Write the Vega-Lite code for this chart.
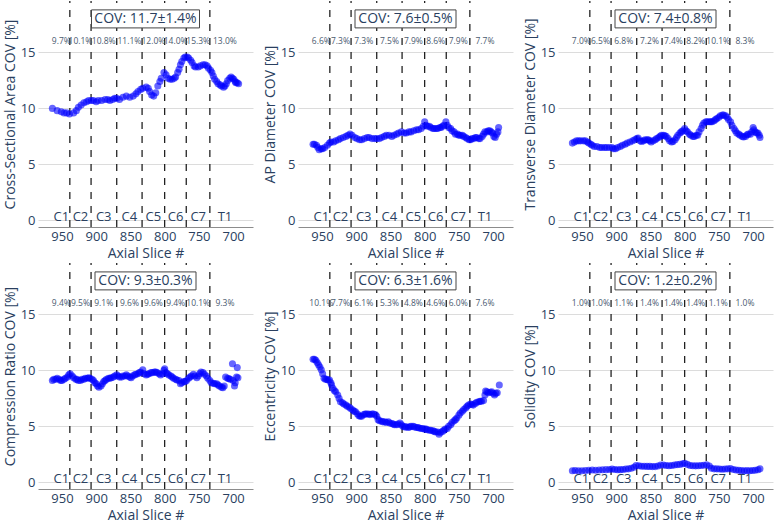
{
"$schema": "https://vega.github.io/schema/vega-lite/v6.json",
"padding": {"left": 3, "top": 0, "right": 1, "bottom": 0},
"background": "white",
"columns": 3,
"spacing": {"row": 2, "column": 10},
"datasets": {
"bnd": [{"s":938.5},{"s":907.5},{"s":870},{"s":833},{"s":800},{"s":768.5},{"s":734}],
"lab": [{"s":951,"lev":"C1"},{"s":923,"lev":"C2"},{"s":889,"lev":"C3"},{"s":851.5,"lev":"C4"},{"s":816.5,"lev":"C5"},{"s":784,"lev":"C6"},{"s":751,"lev":"C7"},{"s":712,"lev":"T1"}],
"cov": [{"m":"csa","t":"COV: 11.7±1.4%"},{"m":"ap","t":"COV: 7.6±0.5%"},{"m":"tr","t":"COV: 7.4±0.8%"},{"m":"cr","t":"COV: 9.3±0.3%"},{"m":"ec","t":"COV: 6.3±1.6%"},{"m":"so","t":"COV: 1.2±0.2%"}],
"pct": [
{"m":"csa","s":951,"p":"9.7%"},{"m":"csa","s":923,"p":"10.1%"},{"m":"csa","s":889,"p":"10.8%"},{"m":"csa","s":851.5,"p":"11.1%"},{"m":"csa","s":816.5,"p":"12.0%"},{"m":"csa","s":784,"p":"14.0%"},{"m":"csa","s":751,"p":"15.3%"},{"m":"csa","s":712,"p":"13.0%"},
{"m":"ap","s":951,"p":"6.6%"},{"m":"ap","s":923,"p":"7.3%"},{"m":"ap","s":889,"p":"7.3%"},{"m":"ap","s":851.5,"p":"7.5%"},{"m":"ap","s":816.5,"p":"7.9%"},{"m":"ap","s":784,"p":"8.6%"},{"m":"ap","s":751,"p":"7.9%"},{"m":"ap","s":712,"p":"7.7%"},
{"m":"tr","s":951,"p":"7.0%"},{"m":"tr","s":923,"p":"6.5%"},{"m":"tr","s":889,"p":"6.8%"},{"m":"tr","s":851.5,"p":"7.2%"},{"m":"tr","s":816.5,"p":"7.4%"},{"m":"tr","s":784,"p":"8.2%"},{"m":"tr","s":751,"p":"10.1%"},{"m":"tr","s":712,"p":"8.3%"},
{"m":"cr","s":951,"p":"9.4%"},{"m":"cr","s":923,"p":"9.5%"},{"m":"cr","s":889,"p":"9.1%"},{"m":"cr","s":851.5,"p":"9.6%"},{"m":"cr","s":816.5,"p":"9.6%"},{"m":"cr","s":784,"p":"9.4%"},{"m":"cr","s":751,"p":"10.1%"},{"m":"cr","s":712,"p":"9.3%"},
{"m":"ec","s":951,"p":"10.1%"},{"m":"ec","s":923,"p":"7.7%"},{"m":"ec","s":889,"p":"6.1%"},{"m":"ec","s":851.5,"p":"5.3%"},{"m":"ec","s":816.5,"p":"4.8%"},{"m":"ec","s":784,"p":"4.6%"},{"m":"ec","s":751,"p":"6.0%"},{"m":"ec","s":712,"p":"7.6%"},
{"m":"so","s":951,"p":"1.0%"},{"m":"so","s":923,"p":"1.0%"},{"m":"so","s":889,"p":"1.1%"},{"m":"so","s":851.5,"p":"1.4%"},{"m":"so","s":816.5,"p":"1.4%"},{"m":"so","s":784,"p":"1.4%"},{"m":"so","s":751,"p":"1.1%"},{"m":"so","s":712,"p":"1.0%"}
],
"pts": [
{"m":"csa","s":964,"v":10.0},{"m":"csa","s":957,"v":9.8},{"m":"csa","s":951,"v":9.7},{"m":"csa","s":947,"v":9.6},{"m":"csa","s":943,"v":9.6},{"m":"csa","s":939,"v":9.5},{"m":"csa","s":933,"v":9.6},{"m":"csa","s":929,"v":9.8},{"m":"csa","s":926,"v":10.1},{"m":"csa","s":922,"v":10.3},{"m":"csa","s":918,"v":10.5},{"m":"csa","s":914,"v":10.6},{"m":"csa","s":911,"v":10.7},{"m":"csa","s":907,"v":10.7},{"m":"csa","s":904,"v":10.7},{"m":"csa","s":900,"v":10.6},{"m":"csa","s":897,"v":10.7},{"m":"csa","s":892,"v":10.7},{"m":"csa","s":887,"v":10.8},{"m":"csa","s":883,"v":10.8},{"m":"csa","s":880,"v":10.7},{"m":"csa","s":876,"v":10.8},{"m":"csa","s":873,"v":10.9},{"m":"csa","s":870,"v":10.9},{"m":"csa","s":866,"v":10.8},{"m":"csa","s":861,"v":11.0},{"m":"csa","s":856,"v":11.1},{"m":"csa","s":851,"v":11.0},{"m":"csa","s":846,"v":11.1},{"m":"csa","s":842,"v":11.3},{"m":"csa","s":839,"v":11.5},{"m":"csa","s":835,"v":11.7},{"m":"csa","s":832,"v":11.8},{"m":"csa","s":827,"v":11.9},{"m":"csa","s":824,"v":11.8},{"m":"csa","s":822,"v":11.5},{"m":"csa","s":819,"v":11.2},{"m":"csa","s":816,"v":11.1},{"m":"csa","s":813,"v":11.4},{"m":"csa","s":810,"v":12.0},{"m":"csa","s":807,"v":12.4},{"m":"csa","s":805,"v":12.7},{"m":"csa","s":801,"v":13.2},{"m":"csa","s":798,"v":13.0},{"m":"csa","s":795,"v":12.7},{"m":"csa","s":792,"v":12.6},{"m":"csa","s":789,"v":12.6},{"m":"csa","s":786,"v":12.7},{"m":"csa","s":784,"v":12.8},{"m":"csa","s":781,"v":13.2},{"m":"csa","s":779,"v":13.5},{"m":"csa","s":777,"v":13.9},{"m":"csa","s":775,"v":14.2},{"m":"csa","s":772,"v":14.5},{"m":"csa","s":770,"v":14.6},{"m":"csa","s":767,"v":14.6},{"m":"csa","s":765,"v":14.5},{"m":"csa","s":762,"v":14.3},{"m":"csa","s":760,"v":14.1},{"m":"csa","s":757,"v":13.8},{"m":"csa","s":755,"v":13.7},{"m":"csa","s":751,"v":13.7},{"m":"csa","s":748,"v":13.8},{"m":"csa","s":744,"v":13.9},{"m":"csa","s":741,"v":13.9},{"m":"csa","s":738,"v":13.8},{"m":"csa","s":736,"v":13.6},{"m":"csa","s":733,"v":13.4},{"m":"csa","s":731,"v":13.2},{"m":"csa","s":729,"v":12.9},{"m":"csa","s":727,"v":12.6},{"m":"csa","s":724,"v":12.4},{"m":"csa","s":722,"v":12.2},{"m":"csa","s":719,"v":12.1},{"m":"csa","s":717,"v":12.0},{"m":"csa","s":714,"v":11.9},{"m":"csa","s":712,"v":12.0},{"m":"csa","s":710,"v":12.2},{"m":"csa","s":708,"v":12.5},{"m":"csa","s":705,"v":12.7},{"m":"csa","s":703,"v":12.8},{"m":"csa","s":701,"v":12.7},{"m":"csa","s":699,"v":12.6},{"m":"csa","s":697,"v":12.4},{"m":"csa","s":696,"v":12.3},{"m":"csa","s":694,"v":12.3},{"m":"csa","s":692,"v":12.2},
{"m":"ap","s":963,"v":6.8},{"m":"ap","s":961,"v":6.8},{"m":"ap","s":958,"v":6.7},{"m":"ap","s":956,"v":6.5},{"m":"ap","s":954,"v":6.3},{"m":"ap","s":951,"v":6.4},{"m":"ap","s":949,"v":6.4},{"m":"ap","s":946,"v":6.5},{"m":"ap","s":942,"v":6.7},{"m":"ap","s":939,"v":6.9},{"m":"ap","s":937,"v":7.0},{"m":"ap","s":933,"v":7.0},{"m":"ap","s":930,"v":7.1},{"m":"ap","s":926,"v":7.2},{"m":"ap","s":923,"v":7.3},{"m":"ap","s":919,"v":7.4},{"m":"ap","s":915,"v":7.5},{"m":"ap","s":912,"v":7.6},{"m":"ap","s":909,"v":7.7},{"m":"ap","s":906,"v":7.6},{"m":"ap","s":902,"v":7.4},{"m":"ap","s":899,"v":7.3},{"m":"ap","s":895,"v":7.2},{"m":"ap","s":892,"v":7.2},{"m":"ap","s":888,"v":7.3},{"m":"ap","s":884,"v":7.4},{"m":"ap","s":881,"v":7.4},{"m":"ap","s":877,"v":7.3},{"m":"ap","s":873,"v":7.3},{"m":"ap","s":870,"v":7.3},{"m":"ap","s":866,"v":7.3},{"m":"ap","s":863,"v":7.4},{"m":"ap","s":859,"v":7.5},{"m":"ap","s":856,"v":7.6},{"m":"ap","s":852,"v":7.6},{"m":"ap","s":848,"v":7.5},{"m":"ap","s":845,"v":7.6},{"m":"ap","s":841,"v":7.7},{"m":"ap","s":838,"v":7.8},{"m":"ap","s":834,"v":7.9},{"m":"ap","s":830,"v":7.8},{"m":"ap","s":827,"v":7.8},{"m":"ap","s":823,"v":7.9},{"m":"ap","s":820,"v":7.9},{"m":"ap","s":816,"v":8.0},{"m":"ap","s":812,"v":8.1},{"m":"ap","s":809,"v":8.1},{"m":"ap","s":805,"v":8.2},{"m":"ap","s":802,"v":8.4},{"m":"ap","s":800,"v":8.8},{"m":"ap","s":798,"v":8.5},{"m":"ap","s":796,"v":8.4},{"m":"ap","s":793,"v":8.4},{"m":"ap","s":791,"v":8.3},{"m":"ap","s":788,"v":8.2},{"m":"ap","s":786,"v":8.2},{"m":"ap","s":783,"v":8.2},{"m":"ap","s":781,"v":8.2},{"m":"ap","s":778,"v":8.3},{"m":"ap","s":776,"v":8.3},{"m":"ap","s":774,"v":8.4},{"m":"ap","s":772,"v":8.5},{"m":"ap","s":769,"v":8.8},{"m":"ap","s":767,"v":8.5},{"m":"ap","s":765,"v":8.3},{"m":"ap","s":762,"v":8.2},{"m":"ap","s":760,"v":8.0},{"m":"ap","s":757,"v":7.9},{"m":"ap","s":755,"v":7.7},{"m":"ap","s":752,"v":7.7},{"m":"ap","s":750,"v":7.6},{"m":"ap","s":748,"v":7.6},{"m":"ap","s":745,"v":7.6},{"m":"ap","s":743,"v":7.5},{"m":"ap","s":740,"v":7.4},{"m":"ap","s":738,"v":7.3},{"m":"ap","s":735,"v":7.2},{"m":"ap","s":733,"v":7.2},{"m":"ap","s":731,"v":7.3},{"m":"ap","s":728,"v":7.3},{"m":"ap","s":726,"v":7.4},{"m":"ap","s":724,"v":7.4},{"m":"ap","s":721,"v":7.3},{"m":"ap","s":719,"v":7.3},{"m":"ap","s":716,"v":7.5},{"m":"ap","s":714,"v":7.7},{"m":"ap","s":712,"v":7.9},{"m":"ap","s":709,"v":7.9},{"m":"ap","s":707,"v":8.0},{"m":"ap","s":705,"v":8.0},{"m":"ap","s":703,"v":7.9},{"m":"ap","s":701,"v":7.8},{"m":"ap","s":699,"v":7.5},{"m":"ap","s":697,"v":7.4},{"m":"ap","s":695,"v":7.7},{"m":"ap","s":693,"v":7.9},{"m":"ap","s":692,"v":8.3},
{"m":"tr","s":964,"v":6.9},{"m":"tr","s":961,"v":7.0},{"m":"tr","s":958,"v":7.1},{"m":"tr","s":955,"v":7.1},{"m":"tr","s":952,"v":7.1},{"m":"tr","s":948,"v":7.1},{"m":"tr","s":945,"v":7.1},{"m":"tr","s":942,"v":7.0},{"m":"tr","s":940,"v":6.9},{"m":"tr","s":937,"v":6.8},{"m":"tr","s":935,"v":6.7},{"m":"tr","s":932,"v":6.6},{"m":"tr","s":928,"v":6.6},{"m":"tr","s":924,"v":6.5},{"m":"tr","s":921,"v":6.5},{"m":"tr","s":917,"v":6.5},{"m":"tr","s":914,"v":6.5},{"m":"tr","s":910,"v":6.5},{"m":"tr","s":906,"v":6.5},{"m":"tr","s":904,"v":6.4},{"m":"tr","s":901,"v":6.4},{"m":"tr","s":898,"v":6.5},{"m":"tr","s":894,"v":6.6},{"m":"tr","s":891,"v":6.7},{"m":"tr","s":887,"v":6.8},{"m":"tr","s":884,"v":6.9},{"m":"tr","s":880,"v":7.0},{"m":"tr","s":876,"v":7.1},{"m":"tr","s":873,"v":7.2},{"m":"tr","s":870,"v":7.3},{"m":"tr","s":868,"v":7.35},{"m":"tr","s":865,"v":7.1},{"m":"tr","s":863,"v":7.05},{"m":"tr","s":860,"v":7.1},{"m":"tr","s":858,"v":7.2},{"m":"tr","s":855,"v":7.2},{"m":"tr","s":853,"v":7.2},{"m":"tr","s":851,"v":7.1},{"m":"tr","s":849,"v":7.0},{"m":"tr","s":846,"v":7.1},{"m":"tr","s":843,"v":7.2},{"m":"tr","s":841,"v":7.3},{"m":"tr","s":838,"v":7.4},{"m":"tr","s":836,"v":7.5},{"m":"tr","s":834,"v":7.6},{"m":"tr","s":831,"v":7.6},{"m":"tr","s":829,"v":7.55},{"m":"tr","s":827,"v":7.5},{"m":"tr","s":824,"v":7.3},{"m":"tr","s":822,"v":7.1},{"m":"tr","s":819,"v":7.0},{"m":"tr","s":817,"v":7.05},{"m":"tr","s":814,"v":7.2},{"m":"tr","s":812,"v":7.4},{"m":"tr","s":810,"v":7.6},{"m":"tr","s":807,"v":7.8},{"m":"tr","s":805,"v":7.9},{"m":"tr","s":803,"v":8.0},{"m":"tr","s":800,"v":8.2},{"m":"tr","s":798,"v":8.0},{"m":"tr","s":796,"v":7.9},{"m":"tr","s":793,"v":7.7},{"m":"tr","s":791,"v":7.6},{"m":"tr","s":788,"v":7.5},{"m":"tr","s":786,"v":7.5},{"m":"tr","s":783,"v":7.6},{"m":"tr","s":781,"v":7.6},{"m":"tr","s":779,"v":7.9},{"m":"tr","s":776,"v":8.2},{"m":"tr","s":774,"v":8.5},{"m":"tr","s":772,"v":8.7},{"m":"tr","s":769,"v":8.8},{"m":"tr","s":767,"v":8.8},{"m":"tr","s":764,"v":8.8},{"m":"tr","s":762,"v":8.8},{"m":"tr","s":760,"v":8.8},{"m":"tr","s":757,"v":8.9},{"m":"tr","s":755,"v":9.0},{"m":"tr","s":753,"v":9.1},{"m":"tr","s":750,"v":9.2},{"m":"tr","s":748,"v":9.35},{"m":"tr","s":745,"v":9.4},{"m":"tr","s":743,"v":9.4},{"m":"tr","s":740,"v":9.35},{"m":"tr","s":738,"v":9.2},{"m":"tr","s":736,"v":9.0},{"m":"tr","s":733,"v":8.8},{"m":"tr","s":731,"v":8.5},{"m":"tr","s":728,"v":8.2},{"m":"tr","s":726,"v":8.0},{"m":"tr","s":724,"v":7.8},{"m":"tr","s":721,"v":7.7},{"m":"tr","s":719,"v":7.6},{"m":"tr","s":716,"v":7.5},{"m":"tr","s":714,"v":7.45},{"m":"tr","s":711,"v":7.5},{"m":"tr","s":709,"v":7.65},{"m":"tr","s":707,"v":7.7},{"m":"tr","s":704,"v":7.7},{"m":"tr","s":702,"v":7.9},{"m":"tr","s":700,"v":8.3},{"m":"tr","s":699,"v":8.1},{"m":"tr","s":697,"v":7.9},{"m":"tr","s":695,"v":7.8},{"m":"tr","s":693,"v":7.8},{"m":"tr","s":691,"v":7.6},{"m":"tr","s":690,"v":7.4},
{"m":"cr","s":964,"v":9.1},{"m":"cr","s":962,"v":9.2},{"m":"cr","s":959,"v":9.2},{"m":"cr","s":957,"v":9.3},{"m":"cr","s":954,"v":9.2},{"m":"cr","s":952,"v":9.1},{"m":"cr","s":950,"v":9.1},{"m":"cr","s":947,"v":9.2},{"m":"cr","s":945,"v":9.3},{"m":"cr","s":942,"v":9.4},{"m":"cr","s":940,"v":9.6},{"m":"cr","s":938,"v":9.7},{"m":"cr","s":935,"v":9.5},{"m":"cr","s":933,"v":9.35},{"m":"cr","s":930,"v":9.2},{"m":"cr","s":928,"v":9.2},{"m":"cr","s":926,"v":9.1},{"m":"cr","s":923,"v":9.1},{"m":"cr","s":921,"v":9.2},{"m":"cr","s":918,"v":9.2},{"m":"cr","s":916,"v":9.3},{"m":"cr","s":913,"v":9.3},{"m":"cr","s":911,"v":9.35},{"m":"cr","s":909,"v":9.3},{"m":"cr","s":906,"v":9.2},{"m":"cr","s":904,"v":9.1},{"m":"cr","s":902,"v":8.9},{"m":"cr","s":900,"v":8.8},{"m":"cr","s":898,"v":8.6},{"m":"cr","s":896,"v":8.5},{"m":"cr","s":893,"v":8.6},{"m":"cr","s":891,"v":8.8},{"m":"cr","s":889,"v":9.0},{"m":"cr","s":887,"v":9.1},{"m":"cr","s":885,"v":9.2},{"m":"cr","s":882,"v":9.3},{"m":"cr","s":880,"v":9.3},{"m":"cr","s":878,"v":9.35},{"m":"cr","s":875,"v":9.4},{"m":"cr","s":873,"v":9.5},{"m":"cr","s":870,"v":9.6},{"m":"cr","s":868,"v":9.5},{"m":"cr","s":866,"v":9.4},{"m":"cr","s":863,"v":9.4},{"m":"cr","s":861,"v":9.5},{"m":"cr","s":858,"v":9.5},{"m":"cr","s":856,"v":9.6},{"m":"cr","s":854,"v":9.5},{"m":"cr","s":851,"v":9.4},{"m":"cr","s":849,"v":9.35},{"m":"cr","s":847,"v":9.5},{"m":"cr","s":844,"v":9.6},{"m":"cr","s":842,"v":9.65},{"m":"cr","s":839,"v":9.7},{"m":"cr","s":837,"v":9.8},{"m":"cr","s":835,"v":9.85},{"m":"cr","s":832,"v":10.05},{"m":"cr","s":830,"v":9.7},{"m":"cr","s":827,"v":9.6},{"m":"cr","s":825,"v":9.65},{"m":"cr","s":823,"v":9.7},{"m":"cr","s":820,"v":9.8},{"m":"cr","s":818,"v":9.8},{"m":"cr","s":815,"v":9.85},{"m":"cr","s":813,"v":9.85},{"m":"cr","s":811,"v":9.8},{"m":"cr","s":808,"v":9.7},{"m":"cr","s":806,"v":9.6},{"m":"cr","s":803,"v":9.7},{"m":"cr","s":801,"v":10.0},{"m":"cr","s":800,"v":10.15},{"m":"cr","s":798,"v":9.8},{"m":"cr","s":796,"v":9.7},{"m":"cr","s":794,"v":9.6},{"m":"cr","s":791,"v":9.5},{"m":"cr","s":789,"v":9.4},{"m":"cr","s":787,"v":9.3},{"m":"cr","s":784,"v":9.2},{"m":"cr","s":782,"v":9.15},{"m":"cr","s":779,"v":9.1},{"m":"cr","s":777,"v":8.8},{"m":"cr","s":775,"v":8.9},{"m":"cr","s":772,"v":9.0},{"m":"cr","s":770,"v":9.0},{"m":"cr","s":768,"v":9.1},{"m":"cr","s":765,"v":9.3},{"m":"cr","s":763,"v":9.4},{"m":"cr","s":761,"v":9.5},{"m":"cr","s":758,"v":9.65},{"m":"cr","s":756,"v":9.5},{"m":"cr","s":753,"v":9.35},{"m":"cr","s":751,"v":9.5},{"m":"cr","s":749,"v":9.7},{"m":"cr","s":747,"v":9.85},{"m":"cr","s":744,"v":9.8},{"m":"cr","s":742,"v":9.65},{"m":"cr","s":739,"v":9.5},{"m":"cr","s":737,"v":9.3},{"m":"cr","s":734,"v":9.1},{"m":"cr","s":732,"v":8.9},{"m":"cr","s":729,"v":8.85},{"m":"cr","s":727,"v":8.8},{"m":"cr","s":724,"v":8.8},{"m":"cr","s":722,"v":8.7},{"m":"cr","s":720,"v":8.6},{"m":"cr","s":717,"v":8.5},{"m":"cr","s":715,"v":8.45},{"m":"cr","s":713,"v":8.6},{"m":"cr","s":711,"v":9.4},{"m":"cr","s":708,"v":9.3},{"m":"cr","s":706,"v":9.25},{"m":"cr","s":704,"v":9.2},{"m":"cr","s":701,"v":10.6},{"m":"cr","s":700,"v":9.1},{"m":"cr","s":698,"v":8.6},{"m":"cr","s":697,"v":8.9},{"m":"cr","s":695,"v":9.4},{"m":"cr","s":694,"v":10.25},{"m":"cr","s":693,"v":9.35},
{"m":"ec","s":963,"v":11.0},{"m":"ec","s":961,"v":11.0},{"m":"ec","s":959,"v":10.9},{"m":"ec","s":957,"v":10.7},{"m":"ec","s":955,"v":10.5},{"m":"ec","s":953,"v":10.3},{"m":"ec","s":951,"v":10.05},{"m":"ec","s":949,"v":9.7},{"m":"ec","s":947,"v":9.3},{"m":"ec","s":945,"v":9.2},{"m":"ec","s":943,"v":9.2},{"m":"ec","s":941,"v":9.15},{"m":"ec","s":939,"v":9.15},{"m":"ec","s":937,"v":8.9},{"m":"ec","s":936,"v":8.7},{"m":"ec","s":934,"v":8.4},{"m":"ec","s":932,"v":8.2},{"m":"ec","s":930,"v":8.1},{"m":"ec","s":927,"v":7.8},{"m":"ec","s":925,"v":7.5},{"m":"ec","s":923,"v":7.2},{"m":"ec","s":920,"v":7.1},{"m":"ec","s":918,"v":7.0},{"m":"ec","s":915,"v":6.9},{"m":"ec","s":913,"v":6.8},{"m":"ec","s":910,"v":6.7},{"m":"ec","s":908,"v":6.6},{"m":"ec","s":905,"v":6.45},{"m":"ec","s":903,"v":6.35},{"m":"ec","s":901,"v":6.3},{"m":"ec","s":898,"v":6.1},{"m":"ec","s":896,"v":5.95},{"m":"ec","s":894,"v":5.9},{"m":"ec","s":892,"v":5.9},{"m":"ec","s":889,"v":6.05},{"m":"ec","s":887,"v":6.1},{"m":"ec","s":885,"v":6.1},{"m":"ec","s":882,"v":6.1},{"m":"ec","s":880,"v":6.05},{"m":"ec","s":877,"v":6.1},{"m":"ec","s":875,"v":6.1},{"m":"ec","s":872,"v":6.05},{"m":"ec","s":870,"v":5.9},{"m":"ec","s":868,"v":5.6},{"m":"ec","s":866,"v":5.5},{"m":"ec","s":863,"v":5.45},{"m":"ec","s":861,"v":5.4},{"m":"ec","s":858,"v":5.4},{"m":"ec","s":856,"v":5.35},{"m":"ec","s":853,"v":5.4},{"m":"ec","s":851,"v":5.3},{"m":"ec","s":848,"v":5.25},{"m":"ec","s":846,"v":5.2},{"m":"ec","s":844,"v":5.15},{"m":"ec","s":841,"v":5.15},{"m":"ec","s":839,"v":5.2},{"m":"ec","s":836,"v":5.3},{"m":"ec","s":834,"v":5.15},{"m":"ec","s":832,"v":5.0},{"m":"ec","s":829,"v":4.95},{"m":"ec","s":827,"v":4.95},{"m":"ec","s":824,"v":4.9},{"m":"ec","s":822,"v":4.95},{"m":"ec","s":820,"v":5.0},{"m":"ec","s":817,"v":5.0},{"m":"ec","s":815,"v":4.95},{"m":"ec","s":812,"v":4.9},{"m":"ec","s":810,"v":4.9},{"m":"ec","s":808,"v":4.85},{"m":"ec","s":805,"v":4.8},{"m":"ec","s":803,"v":4.8},{"m":"ec","s":800,"v":4.75},{"m":"ec","s":798,"v":4.75},{"m":"ec","s":796,"v":4.7},{"m":"ec","s":793,"v":4.65},{"m":"ec","s":791,"v":4.65},{"m":"ec","s":788,"v":4.6},{"m":"ec","s":786,"v":4.55},{"m":"ec","s":784,"v":4.5},{"m":"ec","s":781,"v":4.5},{"m":"ec","s":779,"v":4.3},{"m":"ec","s":777,"v":4.45},{"m":"ec","s":774,"v":4.55},{"m":"ec","s":772,"v":4.65},{"m":"ec","s":770,"v":4.75},{"m":"ec","s":767,"v":4.8},{"m":"ec","s":765,"v":5.0},{"m":"ec","s":762,"v":5.15},{"m":"ec","s":760,"v":5.35},{"m":"ec","s":757,"v":5.5},{"m":"ec","s":755,"v":5.6},{"m":"ec","s":753,"v":5.75},{"m":"ec","s":750,"v":6.0},{"m":"ec","s":748,"v":6.2},{"m":"ec","s":745,"v":6.35},{"m":"ec","s":743,"v":6.5},{"m":"ec","s":740,"v":6.65},{"m":"ec","s":738,"v":6.8},{"m":"ec","s":736,"v":6.9},{"m":"ec","s":733,"v":7.0},{"m":"ec","s":731,"v":6.95},{"m":"ec","s":729,"v":6.9},{"m":"ec","s":726,"v":7.05},{"m":"ec","s":724,"v":7.15},{"m":"ec","s":721,"v":7.2},{"m":"ec","s":719,"v":7.25},{"m":"ec","s":717,"v":7.25},{"m":"ec","s":714,"v":7.3},{"m":"ec","s":712,"v":7.8},{"m":"ec","s":711,"v":8.15},{"m":"ec","s":709,"v":8.1},{"m":"ec","s":707,"v":8.0},{"m":"ec","s":704,"v":8.05},{"m":"ec","s":702,"v":8.1},{"m":"ec","s":700,"v":7.95},{"m":"ec","s":698,"v":7.8},{"m":"ec","s":696,"v":7.95},{"m":"ec","s":694,"v":8.0},{"m":"ec","s":691,"v":8.7},
{"m":"so","s":964,"v":1.03},{"m":"so","s":960,"v":1.05},{"m":"so","s":955,"v":1.03},{"m":"so","s":950,"v":1.03},{"m":"so","s":945,"v":1.05},{"m":"so","s":940,"v":1.07},{"m":"so","s":935,"v":1.1},{"m":"so","s":930,"v":1.08},{"m":"so","s":925,"v":1.1},{"m":"so","s":920,"v":1.12},{"m":"so","s":915,"v":1.13},{"m":"so","s":910,"v":1.15},{"m":"so","s":906,"v":1.18},{"m":"so","s":902,"v":1.15},{"m":"so","s":898,"v":1.12},{"m":"so","s":894,"v":1.13},{"m":"so","s":890,"v":1.15},{"m":"so","s":886,"v":1.18},{"m":"so","s":882,"v":1.2},{"m":"so","s":878,"v":1.25},{"m":"so","s":874,"v":1.35},{"m":"so","s":871,"v":1.5},{"m":"so","s":867,"v":1.48},{"m":"so","s":863,"v":1.44},{"m":"so","s":859,"v":1.43},{"m":"so","s":855,"v":1.42},{"m":"so","s":851,"v":1.42},{"m":"so","s":847,"v":1.4},{"m":"so","s":843,"v":1.4},{"m":"so","s":839,"v":1.45},{"m":"so","s":835,"v":1.55},{"m":"so","s":831,"v":1.55},{"m":"so","s":827,"v":1.5},{"m":"so","s":823,"v":1.48},{"m":"so","s":819,"v":1.5},{"m":"so","s":815,"v":1.55},{"m":"so","s":811,"v":1.58},{"m":"so","s":807,"v":1.6},{"m":"so","s":803,"v":1.65},{"m":"so","s":800,"v":1.7},{"m":"so","s":796,"v":1.6},{"m":"so","s":792,"v":1.5},{"m":"so","s":788,"v":1.48},{"m":"so","s":784,"v":1.47},{"m":"so","s":780,"v":1.48},{"m":"so","s":776,"v":1.5},{"m":"so","s":772,"v":1.52},{"m":"so","s":768,"v":1.56},{"m":"so","s":764,"v":1.45},{"m":"so","s":761,"v":1.25},{"m":"so","s":757,"v":1.2},{"m":"so","s":753,"v":1.2},{"m":"so","s":749,"v":1.18},{"m":"so","s":745,"v":1.17},{"m":"so","s":741,"v":1.18},{"m":"so","s":737,"v":1.2},{"m":"so","s":733,"v":1.24},{"m":"so","s":729,"v":1.15},{"m":"so","s":725,"v":1.1},{"m":"so","s":721,"v":1.07},{"m":"so","s":717,"v":1.04},{"m":"so","s":713,"v":1.03},{"m":"so","s":709,"v":1.04},{"m":"so","s":705,"v":1.03},{"m":"so","s":701,"v":1.05},{"m":"so","s":697,"v":1.07},{"m":"so","s":693,"v":1.12},{"m":"so","s":690,"v":1.2}
]
},
"concat": [
{"width":215,"height":226,"layer":[
 {"data":{"name":"bnd"},"mark":{"type":"rule","color":"#111","strokeWidth":1.2,"strokeDash":[7,7]},"encoding":{"x":{"field":"s","type":"quantitative","scale":{"domain":[671,985],"reverse":true,"nice":false,"zero":false}},"y":{"datum":-0.6,"type":"quantitative","scale":{"domain":[-0.6,19.6],"nice":false,"zero":false}},"y2":{"datum":19.6}}},
 {"data":{"name":"pts"},"transform":[{"filter":"datum.m==='csa'"}],"mark":{"type":"circle","size":50,"color":"#0000ff","opacity":0.6},"encoding":{"x":{"field":"s","type":"quantitative","scale":{"domain":[671,985],"reverse":true,"nice":false,"zero":false},"axis":{"title":"Axial Slice #","values":[700,750,800,850,900,950]}},"y":{"field":"v","type":"quantitative","scale":{"domain":[-0.6,19.6],"nice":false,"zero":false},"axis":{"title":"Cross-Sectional Area COV [%]","values":[0,5,10,15]}}}},
 {"data":{"name":"cov"},"transform":[{"filter":"datum.m==='csa'"}],"mark":{"type":"point","shape":"M-1,-0.167H1V0.167H-1Z","size":11664,"filled":true,"fill":"white","stroke":"#444","strokeWidth":1,"opacity":1},"encoding":{"x":{"datum":828,"type":"quantitative"},"y":{"datum":18,"type":"quantitative"}}},
 {"data":{"name":"cov"},"transform":[{"filter":"datum.m==='csa'"}],"mark":{"type":"text","fontSize":14},"encoding":{"x":{"datum":828,"type":"quantitative"},"y":{"datum":18,"type":"quantitative"},"text":{"field":"t"}}},
 {"data":{"name":"pct"},"transform":[{"filter":"datum.m==='csa'"}],"mark":{"type":"text","fontSize":8.5,"color":"#4a5a70"},"encoding":{"x":{"field":"s","type":"quantitative"},"y":{"datum":16,"type":"quantitative"},"text":{"field":"p"}}},
 {"data":{"name":"lab"},"mark":{"type":"text","fontSize":13},"encoding":{"x":{"field":"s","type":"quantitative"},"y":{"datum":0.3,"type":"quantitative"},"text":{"field":"lev"}}}
]},
{"width":215,"height":226,"layer":[
 {"data":{"name":"bnd"},"mark":{"type":"rule","color":"#111","strokeWidth":1.2,"strokeDash":[7,7]},"encoding":{"x":{"field":"s","type":"quantitative","scale":{"domain":[671,985],"reverse":true,"nice":false,"zero":false}},"y":{"datum":-0.6,"type":"quantitative","scale":{"domain":[-0.6,19.6],"nice":false,"zero":false}},"y2":{"datum":19.6}}},
 {"data":{"name":"pts"},"transform":[{"filter":"datum.m==='ap'"}],"mark":{"type":"circle","size":50,"color":"#0000ff","opacity":0.6},"encoding":{"x":{"field":"s","type":"quantitative","scale":{"domain":[671,985],"reverse":true,"nice":false,"zero":false},"axis":{"title":"Axial Slice #","values":[700,750,800,850,900,950]}},"y":{"field":"v","type":"quantitative","scale":{"domain":[-0.6,19.6],"nice":false,"zero":false},"axis":{"title":"AP Diameter COV [%]","values":[0,5,10,15]}}}},
 {"data":{"name":"cov"},"transform":[{"filter":"datum.m==='ap'"}],"mark":{"type":"point","shape":"M-1,-0.178H1V0.178H-1Z","size":10201,"filled":true,"fill":"white","stroke":"#444","strokeWidth":1,"opacity":1},"encoding":{"x":{"datum":828,"type":"quantitative"},"y":{"datum":18,"type":"quantitative"}}},
 {"data":{"name":"cov"},"transform":[{"filter":"datum.m==='ap'"}],"mark":{"type":"text","fontSize":14},"encoding":{"x":{"datum":828,"type":"quantitative"},"y":{"datum":18,"type":"quantitative"},"text":{"field":"t"}}},
 {"data":{"name":"pct"},"transform":[{"filter":"datum.m==='ap'"}],"mark":{"type":"text","fontSize":8.5,"color":"#4a5a70"},"encoding":{"x":{"field":"s","type":"quantitative"},"y":{"datum":16,"type":"quantitative"},"text":{"field":"p"}}},
 {"data":{"name":"lab"},"mark":{"type":"text","fontSize":13},"encoding":{"x":{"field":"s","type":"quantitative"},"y":{"datum":0.3,"type":"quantitative"},"text":{"field":"lev"}}}
]},
{"width":215,"height":226,"layer":[
 {"data":{"name":"bnd"},"mark":{"type":"rule","color":"#111","strokeWidth":1.2,"strokeDash":[7,7]},"encoding":{"x":{"field":"s","type":"quantitative","scale":{"domain":[671,985],"reverse":true,"nice":false,"zero":false}},"y":{"datum":-0.6,"type":"quantitative","scale":{"domain":[-0.6,19.6],"nice":false,"zero":false}},"y2":{"datum":19.6}}},
 {"data":{"name":"pts"},"transform":[{"filter":"datum.m==='tr'"}],"mark":{"type":"circle","size":50,"color":"#0000ff","opacity":0.6},"encoding":{"x":{"field":"s","type":"quantitative","scale":{"domain":[671,985],"reverse":true,"nice":false,"zero":false},"axis":{"title":"Axial Slice #","values":[700,750,800,850,900,950]}},"y":{"field":"v","type":"quantitative","scale":{"domain":[-0.6,19.6],"nice":false,"zero":false},"axis":{"title":"Transverse Diameter COV [%]","values":[0,5,10,15]}}}},
 {"data":{"name":"cov"},"transform":[{"filter":"datum.m==='tr'"}],"mark":{"type":"point","shape":"M-1,-0.178H1V0.178H-1Z","size":10201,"filled":true,"fill":"white","stroke":"#444","strokeWidth":1,"opacity":1},"encoding":{"x":{"datum":828,"type":"quantitative"},"y":{"datum":18,"type":"quantitative"}}},
 {"data":{"name":"cov"},"transform":[{"filter":"datum.m==='tr'"}],"mark":{"type":"text","fontSize":14},"encoding":{"x":{"datum":828,"type":"quantitative"},"y":{"datum":18,"type":"quantitative"},"text":{"field":"t"}}},
 {"data":{"name":"pct"},"transform":[{"filter":"datum.m==='tr'"}],"mark":{"type":"text","fontSize":8.5,"color":"#4a5a70"},"encoding":{"x":{"field":"s","type":"quantitative"},"y":{"datum":16,"type":"quantitative"},"text":{"field":"p"}}},
 {"data":{"name":"lab"},"mark":{"type":"text","fontSize":13},"encoding":{"x":{"field":"s","type":"quantitative"},"y":{"datum":0.3,"type":"quantitative"},"text":{"field":"lev"}}}
]},
{"width":215,"height":226,"layer":[
 {"data":{"name":"bnd"},"mark":{"type":"rule","color":"#111","strokeWidth":1.2,"strokeDash":[7,7]},"encoding":{"x":{"field":"s","type":"quantitative","scale":{"domain":[671,985],"reverse":true,"nice":false,"zero":false}},"y":{"datum":-0.6,"type":"quantitative","scale":{"domain":[-0.6,19.6],"nice":false,"zero":false}},"y2":{"datum":19.6}}},
 {"data":{"name":"pts"},"transform":[{"filter":"datum.m==='cr'"}],"mark":{"type":"circle","size":50,"color":"#0000ff","opacity":0.6},"encoding":{"x":{"field":"s","type":"quantitative","scale":{"domain":[671,985],"reverse":true,"nice":false,"zero":false},"axis":{"title":"Axial Slice #","values":[700,750,800,850,900,950]}},"y":{"field":"v","type":"quantitative","scale":{"domain":[-0.6,19.6],"nice":false,"zero":false},"axis":{"title":"Compression Ratio COV [%]","values":[0,5,10,15]}}}},
 {"data":{"name":"cov"},"transform":[{"filter":"datum.m==='cr'"}],"mark":{"type":"point","shape":"M-1,-0.178H1V0.178H-1Z","size":10201,"filled":true,"fill":"white","stroke":"#444","strokeWidth":1,"opacity":1},"encoding":{"x":{"datum":828,"type":"quantitative"},"y":{"datum":18,"type":"quantitative"}}},
 {"data":{"name":"cov"},"transform":[{"filter":"datum.m==='cr'"}],"mark":{"type":"text","fontSize":14},"encoding":{"x":{"datum":828,"type":"quantitative"},"y":{"datum":18,"type":"quantitative"},"text":{"field":"t"}}},
 {"data":{"name":"pct"},"transform":[{"filter":"datum.m==='cr'"}],"mark":{"type":"text","fontSize":8.5,"color":"#4a5a70"},"encoding":{"x":{"field":"s","type":"quantitative"},"y":{"datum":16,"type":"quantitative"},"text":{"field":"p"}}},
 {"data":{"name":"lab"},"mark":{"type":"text","fontSize":13},"encoding":{"x":{"field":"s","type":"quantitative"},"y":{"datum":0.3,"type":"quantitative"},"text":{"field":"lev"}}}
]},
{"width":215,"height":226,"layer":[
 {"data":{"name":"bnd"},"mark":{"type":"rule","color":"#111","strokeWidth":1.2,"strokeDash":[7,7]},"encoding":{"x":{"field":"s","type":"quantitative","scale":{"domain":[671,985],"reverse":true,"nice":false,"zero":false}},"y":{"datum":-0.6,"type":"quantitative","scale":{"domain":[-0.6,19.6],"nice":false,"zero":false}},"y2":{"datum":19.6}}},
 {"data":{"name":"pts"},"transform":[{"filter":"datum.m==='ec'"}],"mark":{"type":"circle","size":50,"color":"#0000ff","opacity":0.6},"encoding":{"x":{"field":"s","type":"quantitative","scale":{"domain":[671,985],"reverse":true,"nice":false,"zero":false},"axis":{"title":"Axial Slice #","values":[700,750,800,850,900,950]}},"y":{"field":"v","type":"quantitative","scale":{"domain":[-0.6,19.6],"nice":false,"zero":false},"axis":{"title":"Eccentricity COV [%]","values":[0,5,10,15]}}}},
 {"data":{"name":"cov"},"transform":[{"filter":"datum.m==='ec'"}],"mark":{"type":"point","shape":"M-1,-0.178H1V0.178H-1Z","size":10201,"filled":true,"fill":"white","stroke":"#444","strokeWidth":1,"opacity":1},"encoding":{"x":{"datum":828,"type":"quantitative"},"y":{"datum":18,"type":"quantitative"}}},
 {"data":{"name":"cov"},"transform":[{"filter":"datum.m==='ec'"}],"mark":{"type":"text","fontSize":14},"encoding":{"x":{"datum":828,"type":"quantitative"},"y":{"datum":18,"type":"quantitative"},"text":{"field":"t"}}},
 {"data":{"name":"pct"},"transform":[{"filter":"datum.m==='ec'"}],"mark":{"type":"text","fontSize":8.5,"color":"#4a5a70"},"encoding":{"x":{"field":"s","type":"quantitative"},"y":{"datum":16,"type":"quantitative"},"text":{"field":"p"}}},
 {"data":{"name":"lab"},"mark":{"type":"text","fontSize":13},"encoding":{"x":{"field":"s","type":"quantitative"},"y":{"datum":0.3,"type":"quantitative"},"text":{"field":"lev"}}}
]},
{"width":215,"height":226,"layer":[
 {"data":{"name":"bnd"},"mark":{"type":"rule","color":"#111","strokeWidth":1.2,"strokeDash":[7,7]},"encoding":{"x":{"field":"s","type":"quantitative","scale":{"domain":[671,985],"reverse":true,"nice":false,"zero":false}},"y":{"datum":-0.6,"type":"quantitative","scale":{"domain":[-0.6,19.6],"nice":false,"zero":false}},"y2":{"datum":19.6}}},
 {"data":{"name":"pts"},"transform":[{"filter":"datum.m==='so'"}],"mark":{"type":"circle","size":50,"color":"#0000ff","opacity":0.6},"encoding":{"x":{"field":"s","type":"quantitative","scale":{"domain":[671,985],"reverse":true,"nice":false,"zero":false},"axis":{"title":"Axial Slice #","values":[700,750,800,850,900,950]}},"y":{"field":"v","type":"quantitative","scale":{"domain":[-0.6,19.6],"nice":false,"zero":false},"axis":{"title":"Solidity COV [%]","values":[0,5,10,15]}}}},
 {"data":{"name":"cov"},"transform":[{"filter":"datum.m==='so'"}],"mark":{"type":"point","shape":"M-1,-0.178H1V0.178H-1Z","size":10201,"filled":true,"fill":"white","stroke":"#444","strokeWidth":1,"opacity":1},"encoding":{"x":{"datum":828,"type":"quantitative"},"y":{"datum":18,"type":"quantitative"}}},
 {"data":{"name":"cov"},"transform":[{"filter":"datum.m==='so'"}],"mark":{"type":"text","fontSize":14},"encoding":{"x":{"datum":828,"type":"quantitative"},"y":{"datum":18,"type":"quantitative"},"text":{"field":"t"}}},
 {"data":{"name":"pct"},"transform":[{"filter":"datum.m==='so'"}],"mark":{"type":"text","fontSize":8.5,"color":"#4a5a70"},"encoding":{"x":{"field":"s","type":"quantitative"},"y":{"datum":16,"type":"quantitative"},"text":{"field":"p"}}},
 {"data":{"name":"lab"},"mark":{"type":"text","fontSize":13},"encoding":{"x":{"field":"s","type":"quantitative"},"y":{"datum":0.3,"type":"quantitative"},"text":{"field":"lev"}}}
]}
],
"config": {
 "font": "Open Sans",
 "view": {"stroke": null},
 "axis": {"labelFont":"Open Sans","labelFontSize":13,"labelColor":"#2a3f5f","titleFont":"Open Sans","titleFontSize":14,"titleFontWeight":"normal","titleColor":"#2a3f5f","ticks":false,"gridColor":"#dcdcdc","gridWidth":1,"domainColor":"#8c8c8c","labelPadding":3,"titlePadding":3,"labelFlush":false,"labelOverlap":false},
 "axisX": {"grid": false, "domain": true, "labelPadding": 3, "titlePadding": 3},
 "axisY": {"grid": true, "domain": false},
 "text": {"font": "Open Sans", "color": "#2a3f5f"}
}
}
